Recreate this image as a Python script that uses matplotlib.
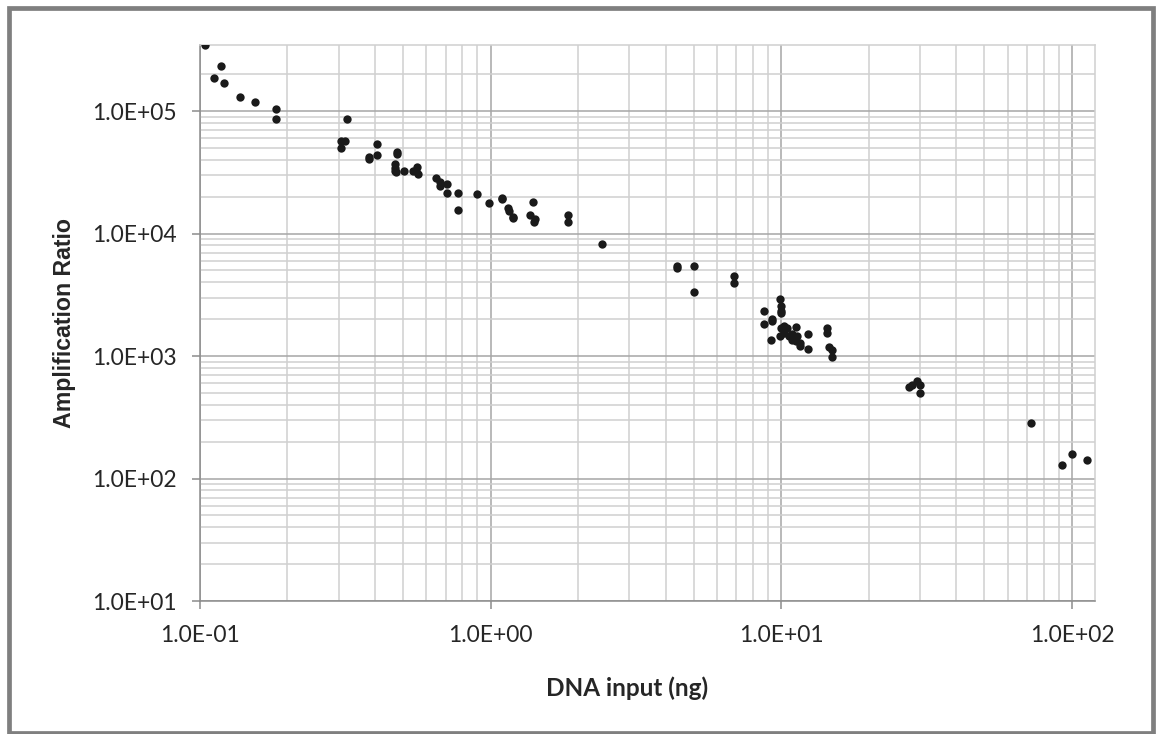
import numpy as np
import matplotlib.pyplot as plt
from matplotlib.patches import Rectangle
from matplotlib.ticker import FixedLocator, NullFormatter

# DNA input (ng) vs amplification ratio
dna_input = [
    0.104, 0.112, 0.118, 0.121, 0.137, 0.154, 0.183, 0.183,
    0.306, 0.306, 0.315, 0.321, 0.381, 0.381, 0.405, 0.405,
    0.476, 0.476, 0.468, 0.470, 0.468, 0.472, 0.502, 0.541, 0.553, 0.560, 0.562,
    0.648, 0.671, 0.671, 0.705, 0.705, 0.772, 0.772, 0.895, 0.984,
    1.09, 1.09, 1.15, 1.16, 1.19, 1.19, 1.40, 1.37, 1.42, 1.41,
    1.84, 1.84, 2.42,
    4.36, 4.36, 5.00, 5.00, 6.85, 6.85,
    9.92, 10.0, 10.0, 10.0, 8.74, 9.27, 9.27, 8.74, 9.23,
    9.97, 10.2, 10.5, 9.90, 10.2, 10.6, 10.9, 11.2, 11.3, 11.6, 11.6,
    11.25, 12.4, 12.4, 10.1, 10.9, 14.4, 14.4, 14.6, 14.9, 14.9,
    27.5, 28.2, 29.2, 29.9, 29.9,
    72.2, 92.1, 100.0, 112.6,
]
amp_ratio = [
    3.45e5, 1.85e5, 2.34e5, 1.70e5, 1.30e5, 1.18e5, 1.04e5, 8.57e4,
    4.99e4, 5.66e4, 5.66e4, 8.57e4, 4.09e4, 4.25e4, 5.36e4, 4.41e4,
    4.60e4, 4.45e4, 3.72e4, 3.45e4, 3.24e4, 3.20e4, 3.24e4, 3.24e4, 3.24e4, 3.49e4, 3.04e4,
    2.86e4, 2.65e4, 2.44e4, 2.55e4, 2.16e4, 2.14e4, 1.55e4, 2.09e4, 1.79e4,
    1.97e4, 1.92e4, 1.63e4, 1.52e4, 1.36e4, 1.33e4, 1.82e4, 1.41e4, 1.31e4, 1.24e4,
    1.41e4, 1.24e4, 8.26e3,
    5.48e3, 5.19e3, 5.48e3, 3.34e3, 4.49e3, 3.96e3,
    2.94e3, 2.58e3, 2.35e3, 2.25e3, 2.35e3, 2.01e3, 1.92e3, 1.82e3, 1.36e3,
    1.70e3, 1.75e3, 1.70e3, 1.45e3, 1.54e3, 1.45e3, 1.36e3, 1.32e3, 1.45e3, 1.28e3, 1.20e3,
    1.72e3, 1.50e3, 1.15e3, 1.65e3, 1.50e3, 1.68e3, 1.54e3, 1.19e3, 1.13e3, 9.9e2,
    5.62e2, 5.84e2, 6.25e2, 5.84e2, 4.99e2,
    2.85e2, 1.28e2, 1.60e2, 1.41e2,
]

x_ticks = [0.1, 1, 10, 100]
x_labels = ["1.0E-01", "1.0E+00", "1.0E+01", "1.0E+02"]
y_ticks = [10, 100, 1000, 10000, 100000]
y_labels = ["1.0E+01", "1.0E+02", "1.0E+03", "1.0E+04", "1.0E+05"]

plt.rcParams['font.family'] = ['Lato', 'DejaVu Sans']

fig = plt.figure(figsize=(11.56, 7.34), dpi=100)
ax = fig.add_axes([200 / 1156, 133 / 734, 895 / 1156, 556.5 / 734])

ax.set_xscale('log')
ax.set_yscale('log')
ax.set_xlim(0.1, 120)
ax.set_ylim(10, 3.5e5)

ax.scatter(dna_input, amp_ratio, s=36, color='#1a1a1a', zorder=3, linewidths=0)

ax.set_xticks(x_ticks)
ax.set_xticklabels(x_labels)
ax.set_yticks(y_ticks)
ax.set_yticklabels(y_labels)

# minor grid lines, Excel-style (no 3E+05 line at the top)
x_minor = [m * 10.0 ** e for e in range(-1, 2) for m in range(2, 10)]
y_minor = [m * 10.0 ** e for e in range(1, 6) for m in range(2, 10) if m * 10.0 ** e < 2.5e5]
ax.xaxis.set_minor_locator(FixedLocator(x_minor))
ax.yaxis.set_minor_locator(FixedLocator(y_minor))
ax.xaxis.set_minor_formatter(NullFormatter())
ax.yaxis.set_minor_formatter(NullFormatter())

ax.grid(which='major', color='#a6a6a6', linewidth=1.1)
ax.grid(which='minor', color='#d0d0d0', linewidth=1.1)
ax.set_axisbelow(True)

ax.tick_params(which='major', length=6, width=1.1, color='#8c8c8c',
               labelsize=16.5, pad=11, labelcolor='#262626')
ax.tick_params(which='minor', length=0)

for side in ['left', 'bottom']:
    ax.spines[side].set_color('#8c8c8c')
    ax.spines[side].set_linewidth(1.1)
for side in ['top', 'right']:
    ax.spines[side].set_color('#d0d0d0')
    ax.spines[side].set_linewidth(1.1)

ax.set_xlabel("DNA input (ng)", fontsize=17.5, fontweight='bold', color='#262626')
ax.set_ylabel("Amplification Ratio", fontsize=16.7, fontweight='bold', color='#262626',
              family=['Liberation Sans', 'DejaVu Sans'])
ax.xaxis.set_label_coords((627.5 - 200) / 895, -(688 - 601) / 556.5)
ax.yaxis.set_label_coords(-(200 - 65) / 895, (601 - 322.5) / 556.5)
ax.xaxis.label.set_va('center')
ax.yaxis.label.set_va('center')

# outer chart border
fig.patches.append(Rectangle((8.5 / 1156, 1.5 / 734), 1144 / 1156, 725 / 734,
                             transform=fig.transFigure, fill=False,
                             edgecolor='#7f7f7f', linewidth=3.4))

fig.savefig("out.png", dpi=100, facecolor='white')
